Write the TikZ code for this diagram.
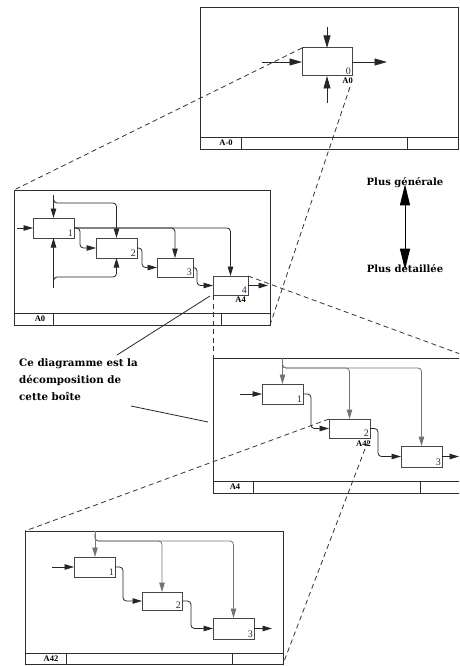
\documentclass[tikz,border=0pt]{standalone}
\usepackage{fontspec}
\setmainfont{Liberation Serif}
\newfontfamily\notefont{DejaVu Serif}
\usetikzlibrary{arrows.meta,calc}
\definecolor{framec}{RGB}{45,45,45}
\definecolor{boxc}{RGB}{70,70,70}
\definecolor{ctlc}{RGB}{115,115,115}
\definecolor{digitc}{RGB}{30,45,95}
\begin{document}
\begin{tikzpicture}[x=1pt,y=-1pt]
\tikzset{
 frmbox/.style={draw=framec, line width=1pt, inner sep=0pt, outer sep=0pt, anchor=north west},
 frm/.style={draw=framec, line width=1pt},
 fbx/.style={draw=boxc, line width=1pt, fill=white, inner sep=0pt, outer sep=0pt, anchor=north west},
 conn/.style={draw=black!85, line width=0.8pt, rounded corners=3.5pt, -{Triangle[length=9.5pt,width=5.5pt]}},
 bigconn/.style={conn, -{Triangle[length=12.5pt,width=7pt]}},
 ctl/.style={conn, draw=ctlc},
 zl/.style={draw=black!80, line width=0.8pt, dash pattern=on 5pt off 3.5pt},
 ptr/.style={draw=black!85, line width=0.8pt},
 num/.style={font=\fontsize{10}{10}\selectfont, text=digitc, inner sep=1pt, anchor=south east},
 alab/.style={font=\bfseries\fontsize{8.5}{9}\selectfont, inner sep=0pt},
 note/.style={font=\notefont\bfseries\fontsize{10.3}{17}\selectfont, align=left, inner sep=0pt},
}
\useasboundingbox (0,0) rectangle (459,666);
\clip (0,0) rectangle (459,666);

% ---------------- Frame 1 : A-0
\node[frmbox, minimum width=258pt, minimum height=141pt] (f1) at (200,8) {};
\draw[frm] (200,137) -- (458,137);
\draw[frm] (241,137) -- (241,149);
\draw[frm] (407,137) -- (407,149);
\node[alab] (f1t) at (226,143) {A-0};
\node[fbx, minimum width=50pt, minimum height=28pt] (b0) at (302,48) {};
\node[num] (b0n) at (b0.south east) {0};
\node[alab, anchor=north east] (b0l) at (353,77.5) {A0};
\coordinate (b0in) at (262,62);
\coordinate (b0out) at (387,62);
\coordinate (b0c) at (327,27);
\coordinate (b0m) at (327,103);
\draw[bigconn] (b0in) -- (b0.west);
\draw[bigconn] (b0.east) -- (b0out);
\draw[bigconn] (b0c) -- (b0.north);
\draw[bigconn] (b0m) -- (b0.south);

% ---------------- Frame 2 : A0
\node[frmbox, minimum width=256pt, minimum height=135pt] (f2) at (14,190) {};
\draw[frm] (14,313) -- (270,313);
\draw[frm] (53,313) -- (53,325);
\draw[frm] (221,313) -- (221,325);
\node[alab] (f2t) at (40,319) {A0};
\node[fbx, minimum width=41pt, minimum height=20pt] (a1) at (33,218) {};
\node[fbx, minimum width=41pt, minimum height=20pt] (a2) at (96,238) {};
\node[fbx, minimum width=36pt, minimum height=19pt] (a3) at (157,258) {};
\node[fbx, minimum width=35pt, minimum height=19pt] (a4) at (213,276) {};
\node[num] (a1n) at (a1.south east) {1};
\node[num] (a2n) at (a2.south east) {2};
\node[num] (a3n) at (a3.south east) {3};
\node[num] (a4n) at (a4.south east) {4};
\node[alab, anchor=north east] (a4l) at (246,297) {A4};
\coordinate (a1in) at (17,228);
\coordinate (a1c) at (53.5,195);
\coordinate (a1cb) at (53.5,198);
\coordinate (a1m) at (53.5,288);
\coordinate (a1mb) at (53.5,285);
\coordinate (a4out) at (268,285.5);
\draw[conn] (a1in) -- (a1.west);
\draw[conn] (a1c) -- (a1.north);
\draw[conn] (a1cb) |- ($(a2.north)+(0,-35)$) -- (a2.north);
\draw[conn] (a1.east) -| (a3.north);
\draw[conn] (a1.east) -| (a4.north);
\draw[conn] (a1.east) -- ++(6,0) |- (a2.west);
\draw[conn] (a2.east) -- ++(5,0) |- (a3.west);
\draw[conn] (a3.east) -- ++(4,0) |- (a4.west);
\draw[conn] (a4.east) -- (a4out);
\draw[conn] (a1m) -- (a1.south);
\draw[conn] (a1mb) |- ($(a2.south)+(0,19)$) -- (a2.south);

% ---------------- Frame 3 : A4
\node[frmbox, minimum width=258pt, minimum height=135pt] (f3) at (213,358) {};
\draw[frm] (213,481) -- (471,481);
\draw[frm] (253,481) -- (253,493);
\draw[frm] (420,481) -- (420,493);
\node[alab] (f3t) at (235,487) {A4};
\node[fbx, minimum width=41pt, minimum height=20pt] (c1) at (262,384) {};
\node[fbx, minimum width=41pt, minimum height=19pt] (c2) at (329,419) {};
\node[fbx, minimum width=41pt, minimum height=21pt] (c3) at (401,446) {};
\node[num] (c1n) at (c1.south east) {1};
\node[num] (c2n) at (c2.south east) {2};
\node[num] (c3n) at (c3.south east) {3};
\node[alab, anchor=north east] (c2l) at (371,441) {A42};
\coordinate (c1in) at (240,394);
\coordinate (c1c) at (282.5,358);
\coordinate (c1cb) at (282.5,361);
\coordinate (c3out) at (459,456.5);
\draw[conn] (c1in) -- (c1.west);
\draw[ctl] (c1c) -- (c1.north);
\draw[ctl] (c1cb) |- ($(c2.north)+(0,-51)$) -- (c2.north);
\draw[ctl] (c1cb) |- ($(c3.north)+(0,-78)$) -- (c3.north);
\draw[conn] (c1.east) -- ++(8,0) |- (c2.west);
\draw[conn] (c2.east) -- ++(8,0) |- (c3.west);
\draw[conn] (c3.east) -- (c3out);

% ---------------- Frame 4 : A42
\node[frmbox, minimum width=258pt, minimum height=133pt] (f4) at (25,531) {};
\draw[frm] (25,653) -- (283,653);
\draw[frm] (66,653) -- (66,664);
\draw[frm] (232,653) -- (232,664);
\node[alab] (f4t) at (51,659) {A42};
\node[fbx, minimum width=41pt, minimum height=20pt] (d1) at (74,557) {};
\node[fbx, minimum width=40pt, minimum height=18pt] (d2) at (142,592) {};
\node[fbx, minimum width=41pt, minimum height=21pt] (d3) at (213,618) {};
\node[num] (d1n) at (d1.south east) {1};
\node[num] (d2n) at (d2.south east) {2};
\node[num] (d3n) at (d3.south east) {3};
\coordinate (d1in) at (52,567);
\coordinate (d1c) at (95,531);
\coordinate (d1cb) at (95,534);
\coordinate (d3out) at (272,628.5);
\draw[conn] (d1in) -- (d1.west);
\draw[ctl] (d1c) -- (d1c |- d1.north);
\draw[ctl] (d1cb) |- ($(d2.north)+(0,-51)$) -- (d2.north);
\draw[ctl] (d1cb) |- ($(d3.north)+(0,-77)$) -- (d3.north);
\draw[conn] (d1.east) -- ++(8,0) |- (d2.west);
\draw[conn] (d2.east) -- ++(9,0) |- (d3.west);
\draw[conn] (d3.east) -- (d3out);

% ---------------- zoom (dashed) lines
\coordinate (b0ls) at (350,87);
\coordinate (c2ls) at (368,441);
\draw[zl] (b0.north west) -- (f2.north west);
\draw[zl] (b0ls) -- (f2.south east);
\draw[zl] (a4.north east) -- (f3.north east);
\draw[zl] (a4.south west) -- (f3.north west);
\draw[zl] (c2.north west) -- (f4.north west);
\draw[zl] (c2ls) -- (f4.south east);

% ---------------- note and pointers
\node[note, anchor=north west] (note) at (19,358) {Ce diagramme est la\\décomposition de\\cette boîte};
\coordinate (p1s) at (210,296);
\coordinate (p1e) at (117,355);
\coordinate (p2s) at (131,406);
\coordinate (p2e) at (208,422);
\draw[ptr] (p1s) -- (p1e);
\draw[ptr] (p2s) -- (p2e);

% ---------------- level arrow
\node[font=\notefont\bfseries\fontsize{10}{12}\selectfont, inner sep=0pt] (gen) at (405,183) {Plus générale};
\node[font=\notefont\bfseries\fontsize{10}{12}\selectfont, inner sep=0pt] (det) at (405,269) {Plus détaillée};
\draw[line width=1pt, {Triangle[length=21pt,width=10pt]}-{Triangle[length=21pt,width=10pt]}] ([yshift=4]gen.south) -- ([yshift=-5]det.north);
\end{tikzpicture}
\end{document}
